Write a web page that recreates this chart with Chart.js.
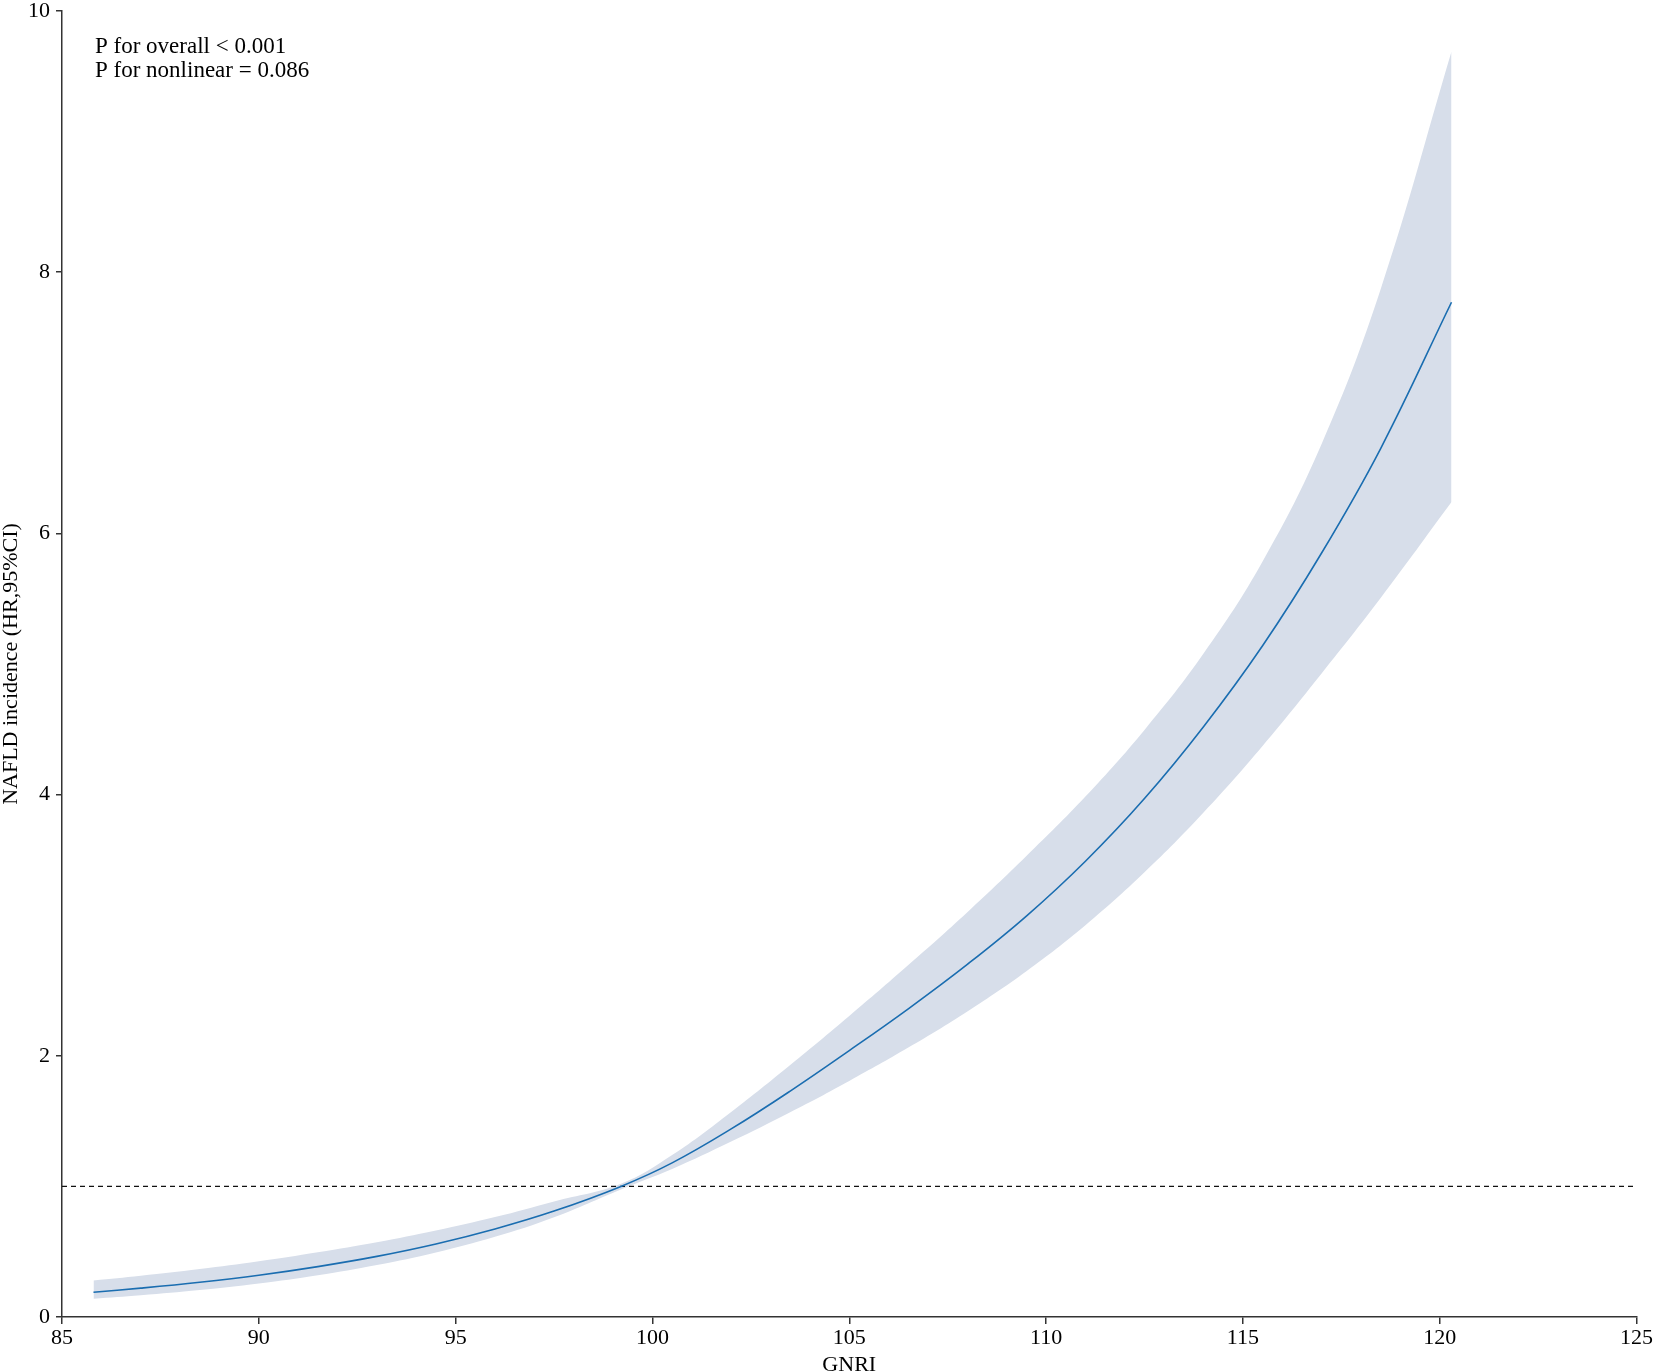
<!DOCTYPE html>
<html>
<head>
<meta charset="utf-8">
<script src="https://cdn.jsdelivr.net/npm/chart.js@4"></script>
<style>
  body { margin: 0; background: #fff; }
  #wrap { width: 1654px; height: 1371px; }
</style>
</head>
<body>
<div id="wrap"><canvas id="rcs-chart"></canvas></div>
<script>
const gnri = [85.8, 87, 88.5, 90, 91.5, 93, 94.5, 96, 97.5, 99.2, 100.5, 102, 103.5, 105, 106.5, 108, 109.5, 111, 112.5, 114, 115.5, 117, 118.5, 120.3];
const hr = [0.19, 0.221, 0.266, 0.32, 0.386, 0.464, 0.559, 0.674, 0.811, 1.0, 1.18, 1.44, 1.73, 2.04, 2.36, 2.7, 3.07, 3.49, 3.97, 4.52, 5.14, 5.85, 6.65, 7.77];
const hrUpper = [0.28, 0.316, 0.367, 0.426, 0.495, 0.572, 0.662, 0.765, 0.885, 1.02, 1.24, 1.57, 1.93, 2.305, 2.695, 3.1, 3.53, 3.985, 4.495, 5.08, 5.785, 6.685, 7.87, 9.69];
const hrLower = [0.14, 0.167, 0.207, 0.257, 0.32, 0.398, 0.494, 0.614, 0.764, 0.977, 1.133, 1.343, 1.568, 1.808, 2.063, 2.34, 2.648, 3.0, 3.405, 3.863, 4.373, 4.928, 5.505, 6.24];
const refX = [85, 125];
const refY = [1, 1];
const xTicks = [85, 90, 95, 100, 105, 110, 115, 120, 125];
const yTicks = [0, 2, 4, 6, 8, 10];
const pText = ["P for overall < 0.001", "P for nonlinear = 0.086"];

const pts = (xs, ys) => xs.map((x, i) => ({ x: x, y: ys[i] }));

const serif = "'Liberation Serif', 'Times New Roman', serif";
const axisColor = "#333333";

// p-value note in the top left corner
const notePlugin = {
  id: "note",
  afterDraw(chart) {
    const ctx = chart.ctx;
    ctx.save();
    ctx.fillStyle = "#000";
    ctx.font = "23px " + serif;
    ctx.textBaseline = "alphabetic";
    ctx.textAlign = "left";
    pText.forEach((t, i) => ctx.fillText(t, 95, 53 + i * 24));
    ctx.restore();
  },
};

new Chart(document.getElementById("rcs-chart"), {
  type: "line",
  data: {
    datasets: [
      {
        label: "HR",
        data: pts(gnri, hr),
        borderColor: "#1a6db0",
        borderWidth: 1.6,
        pointRadius: 0,
        fill: false,
        tension: 0.4,
      },
      {
        label: "ref",
        data: pts(refX, refY),
        borderColor: "#111",
        borderWidth: 1.4,
        borderDash: [5, 4],
        pointRadius: 0,
        fill: false,
      },
      {
        label: "upper",
        data: pts(gnri, hrUpper),
        borderColor: "rgba(0,0,0,0)",
        borderWidth: 0,
        pointRadius: 0,
        backgroundColor: "#d7deea",
        fill: "+1",
        tension: 0.4,
      },
      {
        label: "lower",
        data: pts(gnri, hrLower),
        borderColor: "rgba(0,0,0,0)",
        borderWidth: 0,
        pointRadius: 0,
        fill: false,
        tension: 0.4,
      },
    ],
  },
  options: {
    responsive: true,
    maintainAspectRatio: false,
    animation: false,
    layout: { padding: { top: 11, right: 16, left: 0, bottom: 0 } },
    plugins: { legend: { display: false }, tooltip: { enabled: false } },
    scales: {
      x: {
        type: "linear",
        min: 85,
        max: 125,
        afterFit: (s) => { s.height = 54; },
        afterBuildTicks: (s) => { s.ticks = xTicks.map((v) => ({ value: v })); },
        grid: { drawOnChartArea: false, drawTicks: true, tickLength: 7, color: axisColor, lineWidth: 1.5 },
        border: { display: true, color: axisColor, width: 1.5 },
        ticks: { color: "#000", padding: 1, font: { family: serif, size: 22 }, maxRotation: 0 },
        title: {
          display: true,
          text: "GNRI",
          color: "#000",
          font: { family: serif, size: 22, lineHeight: 1 },
          padding: { top: 0, bottom: -5 },
        },
      },
      y: {
        type: "linear",
        min: 0,
        max: 10,
        afterFit: (s) => { s.width = 62; },
        afterBuildTicks: (s) => { s.ticks = yTicks.map((v) => ({ value: v })); },
        grid: { drawOnChartArea: false, drawTicks: true, tickLength: 6, color: axisColor, lineWidth: 1.5 },
        border: { display: true, color: axisColor, width: 1.5 },
        ticks: { color: "#000", padding: 6, font: { family: serif, size: 22, lineHeight: 0.45 } },
        title: {
          display: true,
          text: "NAFLD incidence (HR,95%CI)",
          color: "#000",
          font: { family: serif, size: 22, lineHeight: 1 },
          padding: { top: 0, bottom: 0 },
        },
      },
    },
  },
  plugins: [notePlugin],
});
</script>
</body>
</html>
